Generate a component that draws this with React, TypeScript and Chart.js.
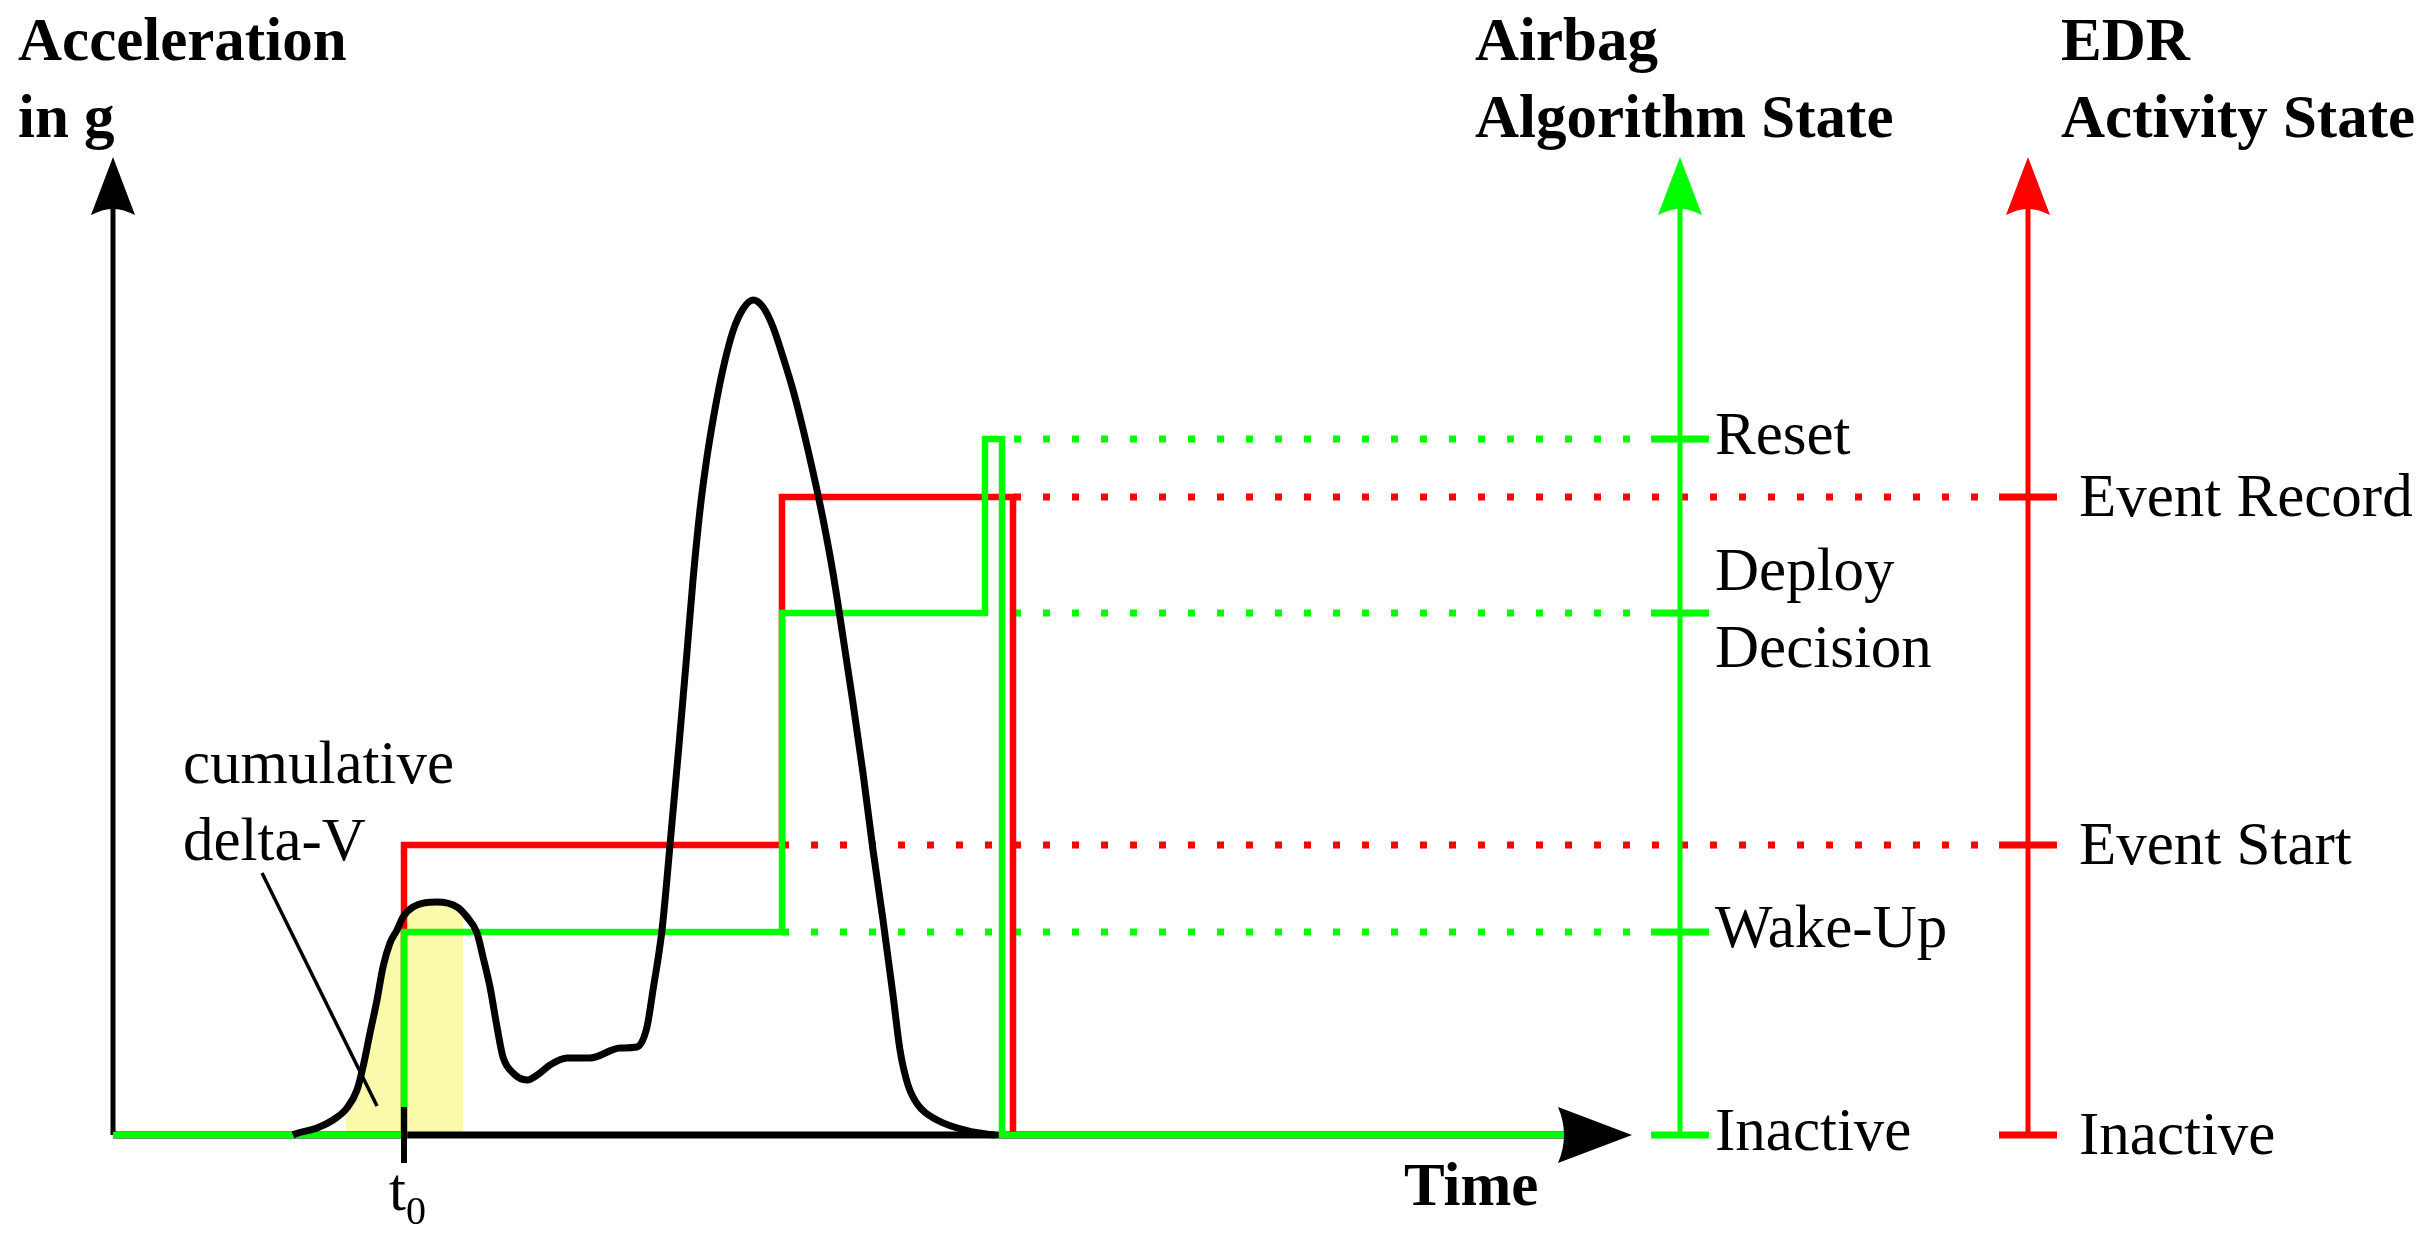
import React, { useEffect, useRef } from 'react';
import { Chart, registerables } from 'chart.js';

Chart.register(...registerables);

// ---- Data (time in arbitrary ms, acceleration in g) ----
const accelTime = [18.0, 18.5, 20.4, 22.0, 23.4, 24.4, 25.0, 25.7, 26.4, 27.0, 27.7, 28.4, 29.0, 30.0, 32.4, 34.4, 35.4, 36.4, 37.0, 37.7, 38.4, 39.0, 40.0, 41.4, 42.7, 43.7, 45.4, 47.7, 50.7, 52.4, 53.4, 54.0, 54.9, 55.7, 56.6, 57.4, 58.0, 58.7, 59.4, 60.2, 61.0, 62.0, 63.0, 64.0, 65.0, 66.0, 67.0, 68.0, 69.0, 70.0, 71.0, 72.0, 73.0, 74.0, 75.0, 76.0, 77.0, 78.0, 78.7, 79.5, 80.5, 82.4, 86.0, 88.2];
const accelG = [0, 0.2, 0.7, 1.5, 2.7, 4.5, 6.8, 10.2, 13.5, 16.8, 19.2, 20.5, 21.8, 22.8, 23.3, 22.8, 21.8, 20.2, 17.8, 14.8, 10.8, 7.8, 6.2, 5.5, 6.2, 7.0, 7.7, 7.7, 8.7, 8.8, 10.8, 14.5, 20.5, 29.0, 39.0, 48.3, 55.5, 62.5, 67.8, 72.6, 76.6, 80.4, 82.6, 83.5, 82.8, 80.8, 77.8, 74.5, 70.6, 66.3, 61.6, 56.2, 49.8, 43.2, 36.2, 28.5, 21.5, 14.0, 8.5, 5.0, 3.0, 1.5, 0.3, 0];

// cumulative delta-V shaded region
const deltaVTime = [23.3, 24.4, 25.0, 25.7, 26.4, 27.0, 27.7, 28.4, 29.0, 30.0, 32.4, 34.4, 35.0];
const deltaVG = [2.6, 4.5, 6.8, 10.2, 13.5, 16.8, 19.2, 20.5, 21.8, 22.8, 23.3, 22.8, 22.2];

// t0
const t0 = 29.1;

// Airbag algorithm states
const airbagStates = ['Inactive', 'Wake-Up', 'Deploy\nDecision', 'Reset'];
const airbagLevels = [0, 20.3, 52.2, 69.6];
const airbagDotStart = [NaN, 66.9, 90.1, 90.1];
const airbagTime = [0, 29.1, 29.1, 66.9, 66.9, 87.2, 87.2, 88.9, 88.9, 145.2];
const airbagValue = [0, 0, 20.3, 20.3, 52.2, 52.2, 69.6, 69.6, 0, 0];

// EDR activity states
const edrStates = ['Inactive', 'Event Start', 'Event Record'];
const edrLevels = [0, 29.0, 63.8];
const edrDotStart = [NaN, 66.9, 90.1];
const edrTime = [29.1, 29.1, 66.9, 66.9, 90.0, 90.0];
const edrValue = [0, 29.0, 29.0, 63.8, 63.8, 0];

// axes positions (in time units)
const timeAxisEnd = 145.3;
const timeArrowTip = 151.9;
const airbagAxisT = 156.7;
const edrAxisT = 191.5;
const stateAxisTop = 92.6;
const arrowTipG = 97.8;

const GREEN = '#00FF00';
const RED = '#FF0000';
const YELLOW = '#FAFAAA';
const FONT = '"Liberation Serif", "Times New Roman", serif';

const pts = (xs: number[], ys: number[]) => xs.map((x, i) => ({ x, y: ys[i] }));

export default function App() {
  const ref = useRef<HTMLCanvasElement | null>(null);

  useEffect(() => {
    document.body.style.margin = '0';
    const canvas = ref.current!;

    const base = { pointRadius: 0, pointHoverRadius: 0, tension: 0, fill: false, borderCapStyle: 'butt', borderJoinStyle: 'miter' };

    const datasets: any[] = [];
    // yellow delta-V area
    datasets.push({ ...base, data: pts(deltaVTime, deltaVG), borderWidth: 0, borderColor: 'rgba(0,0,0,0)', backgroundColor: YELLOW, fill: 'origin', cubicInterpolationMode: 'monotone', order: 20 });
    // black axes
    datasets.push({ ...base, data: [{ x: 0, y: 0 }, { x: timeAxisEnd, y: 0 }], borderColor: '#000', borderWidth: 7, order: 19 });
    datasets.push({ ...base, data: [{ x: 0, y: 0 }, { x: 0, y: stateAxisTop }], borderColor: '#000', borderWidth: 5, order: 19 });
    // dotted lines
    airbagLevels.forEach((lv, i) => {
      if (!isNaN(airbagDotStart[i])) {
        datasets.push({ ...base, data: [{ x: airbagDotStart[i], y: lv }, { x: airbagAxisT - 2.8, y: lv }], borderColor: GREEN, borderWidth: 7, borderDash: [7, 22], order: 18 });
      }
    });
    edrLevels.forEach((lv, i) => {
      if (!isNaN(edrDotStart[i])) {
        datasets.push({ ...base, data: [{ x: edrDotStart[i], y: lv }, { x: edrAxisT - 2.9, y: lv }], borderColor: RED, borderWidth: 7, borderDash: [7, 22], order: 18 });
      }
    });
    // state axes
    datasets.push({ ...base, data: [{ x: airbagAxisT, y: 0 }, { x: airbagAxisT, y: stateAxisTop }], borderColor: GREEN, borderWidth: 5, order: 17 });
    datasets.push({ ...base, data: [{ x: edrAxisT, y: 0 }, { x: edrAxisT, y: stateAxisTop }], borderColor: RED, borderWidth: 5, order: 17 });
    airbagLevels.forEach((lv) => {
      datasets.push({ ...base, data: [{ x: airbagAxisT - 2.9, y: lv }, { x: airbagAxisT + 2.9, y: lv }], borderColor: GREEN, borderWidth: 7, order: 16 });
    });
    edrLevels.forEach((lv) => {
      datasets.push({ ...base, data: [{ x: edrAxisT - 2.9, y: lv }, { x: edrAxisT + 2.9, y: lv }], borderColor: RED, borderWidth: 7, order: 16 });
    });
    // EDR step
    datasets.push({ ...base, data: pts(edrTime, edrValue), borderColor: RED, borderWidth: 6.5, order: 15 });
    // Airbag step
    datasets.push({ ...base, data: pts(airbagTime, airbagValue), borderColor: GREEN, borderWidth: 6.5, order: 14 });
    // t0 tick
    datasets.push({ ...base, data: [{ x: t0, y: 2.8 }, { x: t0, y: -2.8 }], borderColor: '#000', borderWidth: 6, order: 13 });
    // pointer line for cumulative delta-V
    datasets.push({ ...base, data: [{ x: 14.9, y: 26.2 }, { x: 26.4, y: 2.9 }], borderColor: '#000', borderWidth: 3.5, order: 12 });
    // acceleration curve
    datasets.push({ ...base, data: pts(accelTime, accelG), borderColor: '#000', borderWidth: 7, borderJoinStyle: 'round', cubicInterpolationMode: 'monotone', order: 1 });

    const diagram = {
      id: 'diagram',
      afterDatasetsDraw(chart: any) {
        const ctx = chart.ctx as CanvasRenderingContext2D;
        const xs = chart.scales.x;
        const ys = chart.scales.y;
        const px = (t: number) => xs.getPixelForValue(t);
        const py = (a: number) => ys.getPixelForValue(a);
        ctx.save();

        const upArrow = (t: number, color: string) => {
          const x = px(t);
          const tip = py(arrowTipG);
          const bottom = py(stateAxisTop) + 6;
          const notch = py(stateAxisTop);
          ctx.fillStyle = color;
          ctx.beginPath();
          ctx.moveTo(x, tip);
          ctx.lineTo(x + 22, bottom);
          ctx.quadraticCurveTo(x + 8, notch - 1, x, notch);
          ctx.quadraticCurveTo(x - 8, notch - 1, x - 22, bottom);
          ctx.closePath();
          ctx.fill();
        };
        upArrow(0, '#000');
        upArrow(airbagAxisT, GREEN);
        upArrow(edrAxisT, RED);

        // time arrow
        {
          const tipX = px(timeArrowTip);
          const y = py(0);
          const backX = tipX - 74;
          ctx.fillStyle = '#000';
          ctx.beginPath();
          ctx.moveTo(tipX, y);
          ctx.lineTo(backX, y - 28);
          ctx.quadraticCurveTo(backX + 12, y, backX, y + 28);
          ctx.closePath();
          ctx.fill();
        }

        ctx.fillStyle = '#000';
        ctx.textAlign = 'left';
        ctx.textBaseline = 'alphabetic';

        // titles
        ctx.font = `bold 61px ${FONT}`;
        ctx.fillText('Acceleration', px(-9.5), py(107.5));
        ctx.fillText('in g', px(-9.5), py(99.8));
        ctx.fillText('Airbag', px(136.2), py(107.5));
        ctx.fillText('Algorithm State', px(136.2), py(99.8));
        ctx.fillText('EDR', px(194.8), py(107.5));
        ctx.fillText('Activity State', px(194.8), py(99.8));
        ctx.fillText('Time', px(129.1), py(-7.0));

        // state labels
        ctx.font = `61px ${FONT}`;
        airbagStates.forEach((s, i) => {
          const lines = s.split('\n');
          const y0 = py(airbagLevels[i]) + 15 - (lines.length - 1) * 38.5;
          lines.forEach((ln, j) => ctx.fillText(ln, px(airbagAxisT) + 35, y0 + j * 77));
        });
        edrStates.forEach((s, i) => {
          ctx.fillText(s, px(edrAxisT) + 51, py(edrLevels[i]) + 19);
        });

        // annotation
        ctx.fillText('cumulative', px(7.0), py(35.2));
        ctx.fillText('delta-V', px(7.0), py(27.5));

        // t0 label
        ctx.fillText('t', px(t0) - 15, py(-7.5));
        ctx.font = `40px ${FONT}`;
        ctx.fillText('0', px(t0) + 2, py(-8.9));

        ctx.restore();
      },
    };

    const chart = new Chart(canvas, {
      type: 'line',
      data: { datasets },
      options: {
        animation: false,
        responsive: false,
        maintainAspectRatio: false,
        events: [],
        layout: { padding: 0 },
        plugins: { legend: { display: false }, tooltip: { enabled: false }, title: { display: false } },
        scales: {
          x: { type: 'linear', min: -11.3, max: 232.2, display: false },
          y: { type: 'linear', min: -10.1, max: 113.5, display: false },
        },
      },
      plugins: [diagram],
    } as any);

    return () => chart.destroy();
  }, []);

  return (
    <canvas
      ref={ref}
      width={2435}
      height={1236}
      style={{ display: 'block', width: '2435px', height: '1236px' }}
    />
  );
}
